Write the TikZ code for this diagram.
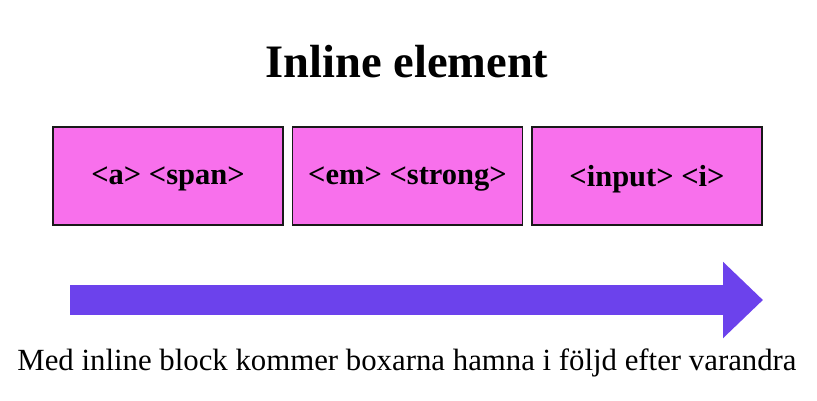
\documentclass[tikz,border=0pt]{standalone}
\usepackage{fontspec}
\setmainfont{Liberation Serif}
\usetikzlibrary{arrows.meta}

\definecolor{boxpink}{HTML}{F870EC}
\definecolor{arrowviolet}{HTML}{6C42EC}

\begin{document}
\begin{tikzpicture}[x=1pt,y=-1pt,
      inlinebox/.style={rectangle, draw=black!90, fill=boxpink, line width=1.5pt,
        minimum width=230pt, minimum height=98pt, inner sep=0pt, text depth=0pt,
        font=\fontsize{30.5}{34}\selectfont\bfseries},
      flowarrow/.style={line width=30pt, draw=arrowviolet,
        -{Triangle[length=40pt,width=74pt]}}]

    \useasboundingbox (0,0) rectangle (817,401);

    \node[font=\fontsize{46.5}{52}\selectfont\bfseries] (title) at (407,62) {Inline element};

    \node[inlinebox] (b1) at (168,176)   {<a> <span>};
    \node[inlinebox] (b2) at (407.5,176) {<em> <strong>};
    \node[inlinebox] (b3) at (647,176)   {<input> <i>};

    \coordinate (arrstart) at (70,300);
    \coordinate (arrend)   at (763,300);
    \draw[flowarrow] (arrstart) -- (arrend);

    \node[font=\fontsize{30.8}{34}\selectfont] (caption) at (407,363)
      {Med inline block kommer boxarna hamna i följd efter varandra};

  \end{tikzpicture}
\end{document}
